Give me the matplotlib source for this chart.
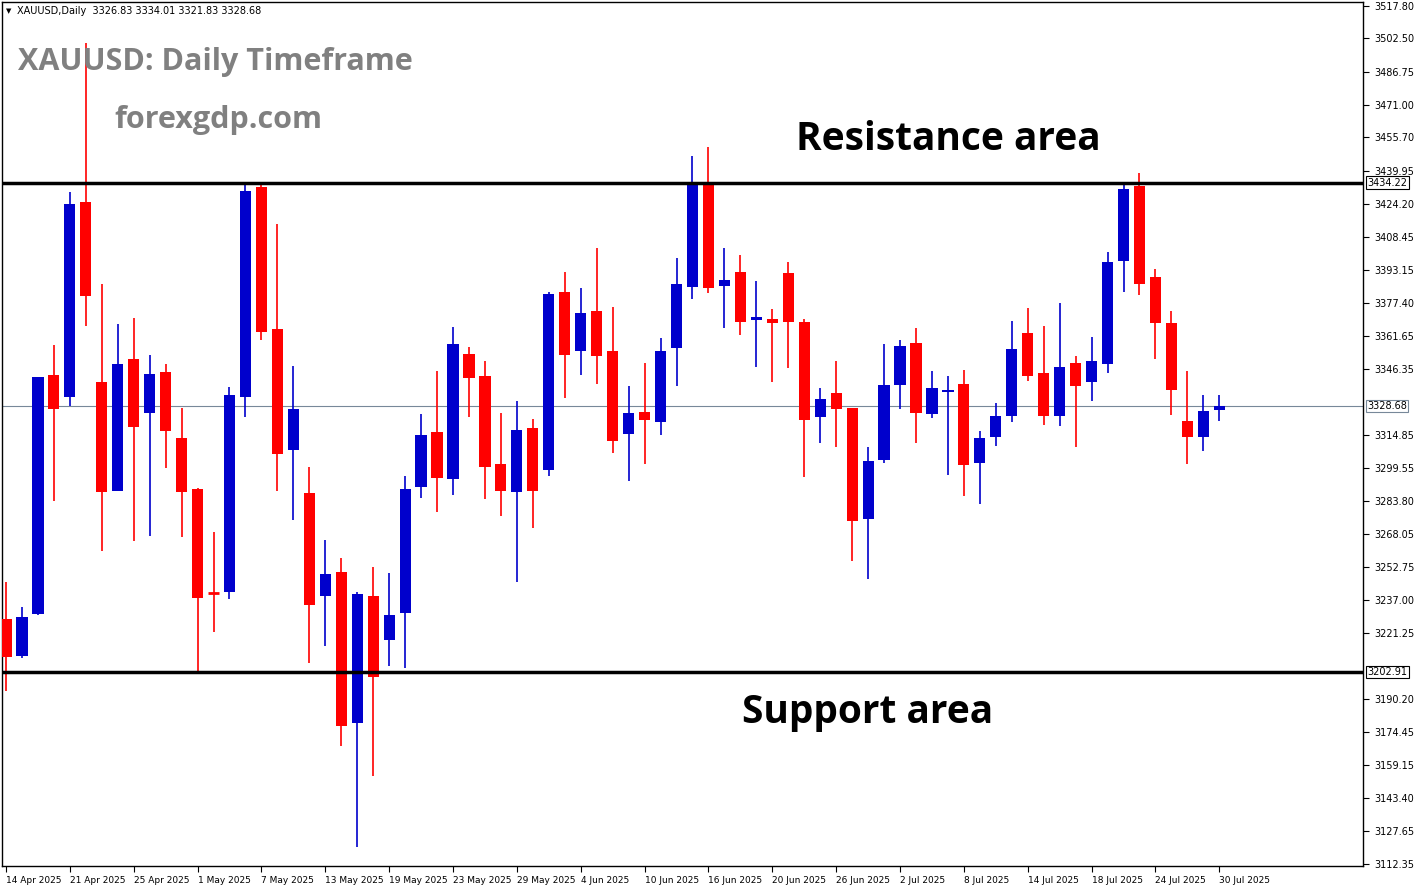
import matplotlib
matplotlib.use('Agg')
import matplotlib.pyplot as plt

# daily OHLC
opens = [3228.0, 3210.5, 3230.4, 3343.4, 3332.9, 3425.1, 3340.0, 3288.5, 3350.9, 3325.4,
         3344.8, 3313.6, 3289.4, 3240.3, 3240.8, 3332.9, 3432.2, 3365.1, 3307.9, 3287.6,
         3238.9, 3250.2, 3178.8, 3238.9, 3218.1, 3230.8, 3290.4, 3316.4, 3294.2, 3353.3,
         3342.9, 3301.3, 3288.0, 3318.3, 3298.4, 3382.6, 3354.7, 3373.6, 3354.7, 3315.4,
         3325.9, 3321.1, 3356.1, 3384.9, 3433.2, 3385.4, 3392.0, 3369.3, 3369.8, 3391.6,
         3368.4, 3323.5, 3334.8, 3327.7, 3275.3, 3303.2, 3338.6, 3358.5, 3324.9, 3335.3,
         3339.1, 3301.8, 3314.0, 3324.0, 3363.2, 3344.3, 3324.0, 3349.0, 3340.0, 3348.5,
         3397.2, 3432.7, 3389.7, 3367.9, 3321.6, 3314.0, 3326.83]
highs = [3245.5, 3233.7, 3342.4, 3357.5, 3429.9, 3500.3, 3386.4, 3367.4, 3370.3, 3352.8,
         3348.5, 3327.7, 3289.9, 3269.1, 3337.7, 3433.2, 3434.1, 3414.7, 3347.6, 3299.9,
         3265.3, 3256.8, 3240.8, 3252.6, 3249.7, 3295.6, 3324.9, 3345.2, 3366.0, 3356.6,
         3349.9, 3325.4, 3331.0, 3322.5, 3382.6, 3392.0, 3384.5, 3403.4, 3375.5, 3338.1,
         3349.0, 3360.8, 3398.6, 3446.9, 3451.1, 3403.4, 3400.1, 3387.8, 3374.5, 3396.8,
         3369.8, 3337.2, 3349.9, 3327.7, 3309.3, 3358.0, 3359.9, 3365.6, 3345.2, 3342.9,
         3345.7, 3316.9, 3330.1, 3368.9, 3375.0, 3366.5, 3377.4, 3352.3, 3361.3, 3401.5,
         3433.6, 3438.8, 3393.4, 3373.6, 3345.2, 3333.9, 3334.01]
lows = [3194.0, 3209.6, 3229.9, 3283.8, 3328.7, 3366.5, 3260.1, 3288.5, 3264.9, 3267.2,
        3299.4, 3266.8, 3202.0, 3221.9, 3237.5, 3323.5, 3359.9, 3288.5, 3274.8, 3207.2,
        3215.2, 3168.0, 3120.2, 3153.8, 3205.8, 3204.8, 3285.2, 3278.6, 3286.6, 3323.5,
        3284.7, 3276.7, 3245.5, 3271.0, 3295.6, 3332.5, 3343.4, 3339.1, 3306.5, 3293.2,
        3301.3, 3315.0, 3338.1, 3379.3, 3382.1, 3365.6, 3362.2, 3347.1, 3340.0, 3346.6,
        3295.1, 3311.2, 3309.3, 3255.4, 3246.9, 3301.8, 3327.3, 3311.2, 3323.0, 3296.1,
        3286.1, 3282.3, 3309.8, 3321.1, 3340.5, 3319.7, 3319.2, 3309.3, 3331.0, 3344.3,
        3382.6, 3381.2, 3350.9, 3324.4, 3301.3, 3307.4, 3321.83]
closes = [3210.0, 3229.0, 3342.4, 3327.3, 3424.2, 3380.7, 3288.0, 3348.5, 3318.8, 3343.8,
          3316.9, 3288.0, 3237.9, 3240.0, 3333.9, 3430.3, 3363.7, 3306.0, 3327.3, 3234.6,
          3249.3, 3177.4, 3239.8, 3200.6, 3229.9, 3289.4, 3315.0, 3294.7, 3358.0, 3341.9,
          3299.9, 3288.5, 3317.4, 3288.5, 3381.6, 3352.8, 3372.6, 3352.3, 3312.1, 3325.4,
          3322.1, 3354.7, 3386.4, 3433.2, 3384.5, 3388.2, 3368.4, 3370.8, 3367.9, 3368.4,
          3322.1, 3332.0, 3327.3, 3274.3, 3302.7, 3338.6, 3357.0, 3325.4, 3337.2, 3336.2,
          3300.8, 3313.6, 3324.0, 3355.6, 3342.9, 3324.0, 3347.1, 3338.1, 3349.9, 3396.8,
          3431.3, 3386.4, 3367.9, 3336.2, 3314.0, 3326.3, 3328.68]

date_labels = ['14 Apr 2025', '21 Apr 2025', '25 Apr 2025', '1 May 2025', '7 May 2025',
               '13 May 2025', '19 May 2025', '23 May 2025', '29 May 2025', '4 Jun 2025',
               '10 Jun 2025', '16 Jun 2025', '20 Jun 2025', '26 Jun 2025', '2 Jul 2025',
               '8 Jul 2025', '14 Jul 2025', '18 Jul 2025', '24 Jul 2025', '30 Jul 2025']
price_ticks = [3517.80, 3502.50, 3486.75, 3471.00, 3455.70, 3439.95, 3424.20, 3408.45,
               3393.15, 3377.40, 3361.65, 3346.35, 3314.85, 3299.55, 3283.80,
               3268.05, 3252.75, 3237.00, 3221.25, 3190.20, 3174.45, 3159.15,
               3143.40, 3127.65, 3112.35]
resistance = 3434.22
support = 3202.91
last_price = 3328.68

W, H = 1422, 888
fig = plt.figure(figsize=(W / 100, H / 100), dpi=100)
ax = fig.add_axes([2 / W, 1 - 866 / H, (1363 - 2) / W, (866 - 2) / H])

for i in range(len(opens)):
    o, h, l, c = opens[i], highs[i], lows[i], closes[i]
    col = '#0000CC' if c > o else '#FF0000'
    ax.vlines(i, l, h, color=col, lw=1.2, zorder=2)
    lo, hi = min(o, c), max(o, c)
    if hi - lo < 0.6:
        ax.hlines((o + c) / 2, i - 0.36, i + 0.36, color=col, lw=2, zorder=3)
    else:
        ax.bar(i, hi - lo, bottom=lo, width=0.7, color=col, zorder=3, lw=0)

ax.axhline(resistance, color='black', lw=2.5, zorder=4)
ax.axhline(support, color='black', lw=2.5, zorder=4)
ax.axhline(last_price, color='#778899', lw=0.8, zorder=1)

ax.set_xlim(-0.25, 85.0)
ax.set_ylim(3111.2, 3519.7)

ax.yaxis.tick_right()
ax.set_yticks(price_ticks)
ax.set_yticklabels(['%.2f' % p for p in price_ticks], fontsize=7)
ax.tick_params(axis='y', length=4, pad=4)
ax.set_xticks(range(0, len(opens), 4))
ax.set_xticklabels(date_labels, fontsize=6.5, ha='left')
ax.tick_params(axis='x', length=4, pad=3)
for s in ax.spines.values():
    s.set_linewidth(1)

# price tags on the right axis
for p, ec in [(resistance, 'black'), (support, 'black'), (last_price, '#778899')]:
    ax.text(1.003, p, '%.2f' % p, transform=ax.get_yaxis_transform(), fontsize=7,
            va='center', ha='left', color='black',
            bbox=dict(boxstyle='square,pad=0.15', fc='white', ec=ec, lw=0.8), zorder=6)

fig.text(17 / W, 1 - 11 / H, 'XAUUSD,Daily  3326.83 3334.01 3321.83 3328.68',
         fontsize=7, va='center', ha='left')
fig.text(6 / W, 1 - 11 / H, '\u25bc', fontsize=5, va='center', ha='left')
fig.text(18 / W, 1 - 62 / H, 'XAUUSD: Daily Timeframe', fontsize=22, fontweight='bold',
         color='#808080', va='center', ha='left', family='Open Sans')
fig.text(114 / W, 1 - 120 / H, 'forexgdp.com', fontsize=22, fontweight='bold',
         color='#808080', va='center', ha='left', family='Open Sans')
fig.text(948 / W, 1 - 140 / H, 'Resistance area', fontsize=28, fontweight='bold',
         color='black', va='center', ha='center', family='Open Sans')
fig.text(868 / W, 1 - 713 / H, 'Support area', fontsize=28, fontweight='bold',
         color='black', va='center', ha='center', family='Open Sans')

fig.savefig('out.png', dpi=100)
